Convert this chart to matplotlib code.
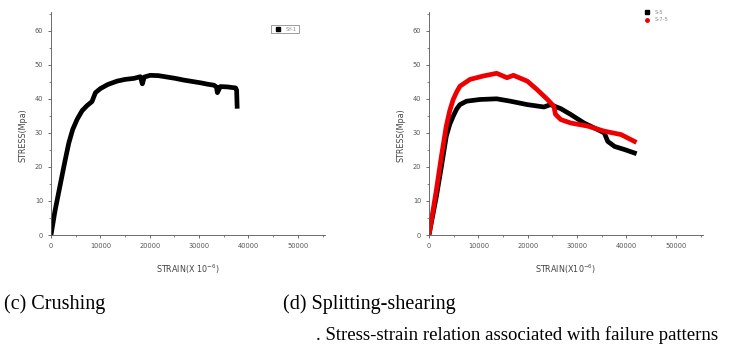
import matplotlib
matplotlib.use("Agg")
import matplotlib.pyplot as plt
from matplotlib.lines import Line2D
from matplotlib.ticker import MultipleLocator

# (c) Crushing
c_strain = [0, 800, 1900, 2800, 3600, 4400, 5300, 6300, 7300, 8300, 9000, 10000, 11500, 13400, 15000,
            16800, 18100, 18500, 18900, 20100, 21800, 23500, 25200, 26900, 28600, 30300, 31700,
            33000, 33500, 33700, 34300, 35700, 36800, 37400, 37600, 37700]
c_stress = [0, 7, 15, 21.5, 27, 31, 34, 36.5, 38, 39.2, 41.8, 43, 44.2, 45.2, 45.7,
            46, 46.5, 44.4, 46.4, 46.9, 46.8, 46.4, 46, 45.5, 45.1, 44.7, 44.3,
            44, 43.5, 41.8, 43.6, 43.5, 43.3, 43.2, 42.5, 37.8]
c_label = "SY-1"

# (d) Splitting-shearing
d1_strain = [0, 1500, 2500, 3500, 4200, 4900, 5600, 6260, 7600, 10300, 13700, 16500, 19900,
             23300, 24600, 26700, 28700, 31400, 34100, 35500, 36200, 37600, 39600, 41600]
d1_stress = [0, 11.4, 20, 29, 32.5, 34.9, 37, 38.3, 39.3, 39.8, 40, 39.3, 38.3,
             37.6, 38.3, 37.1, 35.4, 32.9, 31, 30, 27.5, 26, 25.1, 24.1]
d2_strain = [0, 1500, 2500, 3500, 4200, 4900, 5600, 6260, 8300, 11000, 13700, 15800, 17100,
             19900, 21900, 24000, 25300, 25600, 26000, 26700, 28700, 32100, 35500, 38900, 41600]
d2_stress = [0, 13.3, 23, 32, 36.5, 39.8, 42, 43.7, 45.7, 46.7, 47.5, 46.2, 46.9,
             45.2, 42.7, 39.8, 37.8, 35.5, 34.9, 33.9, 32.9, 32, 30.5, 29.5, 27.5]
d1_label = "S-5"
d2_label = "S-7-5"

x_ticks = [0, 10000, 20000, 30000, 40000, 50000]
y_ticks = [0, 10, 20, 30, 40, 50, 60]

fig = plt.figure(figsize=(7.32, 3.56), dpi=100)
ax1 = fig.add_axes([51/732, 1 - 235/356, 274/732, 223/356])
ax2 = fig.add_axes([429/732, 1 - 235/356, 274/732, 223/356])

tick_col = "#555555"
for ax in (ax1, ax2):
    ax.set_xlim(0, 55500)
    ax.set_ylim(0, 65.5)
    ax.set_xticks(x_ticks)
    ax.set_yticks(y_ticks)
    ax.set_xticklabels([str(v) for v in x_ticks])
    ax.set_yticklabels([str(v) for v in y_ticks])
    ax.xaxis.set_minor_locator(MultipleLocator(5000))
    ax.yaxis.set_minor_locator(MultipleLocator(5))
    ax.tick_params(which="major", direction="out", length=2.5, width=0.6,
                   labelsize=4.8, colors=tick_col, pad=3)
    ax.tick_params(which="minor", direction="out", length=1.5, width=0.5, colors=tick_col)
    for s in ("top", "right"):
        ax.spines[s].set_visible(False)
    for s in ("left", "bottom"):
        ax.spines[s].set_linewidth(0.6)
        ax.spines[s].set_color(tick_col)
    ax.set_ylabel("STRESS(Mpa)", fontsize=5.8, color="#444444", labelpad=6)
    ax.yaxis.set_label_coords(-0.085, 0.45)

ax1.set_xlabel("STRAIN(X 10$^{-6}$)", fontsize=5.8, color="#444444", labelpad=10)
ax2.set_xlabel("STRAIN(X10$^{-6}$)", fontsize=5.8, color="#444444", labelpad=10)

ax1.plot(c_strain, c_stress, color="black", lw=3.4, solid_joinstyle="round")
ax2.plot(d1_strain, d1_stress, color="black", lw=3.4, solid_joinstyle="round")
ax2.plot(d2_strain, d2_stress, color="#ee0000", lw=3.4, solid_joinstyle="round")

h1 = [Line2D([], [], color="black", marker="s", ls="none", markersize=2.5)]
leg1 = ax1.legend(h1, [c_label], loc="upper left", bbox_to_anchor=(0.795, 0.955),
                  fontsize=3.8, frameon=True, fancybox=False, handlelength=1.6,
                  borderpad=0.35, edgecolor="#555555")
leg1.get_frame().set_linewidth(0.5)
for t in leg1.get_texts():
    t.set_color("#888888")

h2 = [Line2D([], [], color="black", marker="s", ls="none", markersize=2.5),
      Line2D([], [], color="#ee0000", marker="o", ls="none", markersize=2.5)]
leg2 = ax2.legend(h2, [d1_label, d2_label], loc="upper left", bbox_to_anchor=(0.765, 1.03),
                  fontsize=3.8, frameon=False, handlelength=1.4, labelspacing=0.45)
for t in leg2.get_texts():
    t.set_color("#888888")

serif = ["Liberation Serif", "DejaVu Serif"]
fig.text(4/732, 1 - 304/356, "(c) Crushing", fontsize=14.5, family=serif, va="center", ha="left")
fig.text(283/732, 1 - 304/356, "(d) Splitting-shearing", fontsize=14.5, family=serif,
         va="center", ha="left")
fig.text(316/732, 1 - 335/356, ". Stress-strain relation associated with failure patterns",
         fontsize=13.5, family=serif, va="center", ha="left")

fig.savefig("out.png", dpi=100)
